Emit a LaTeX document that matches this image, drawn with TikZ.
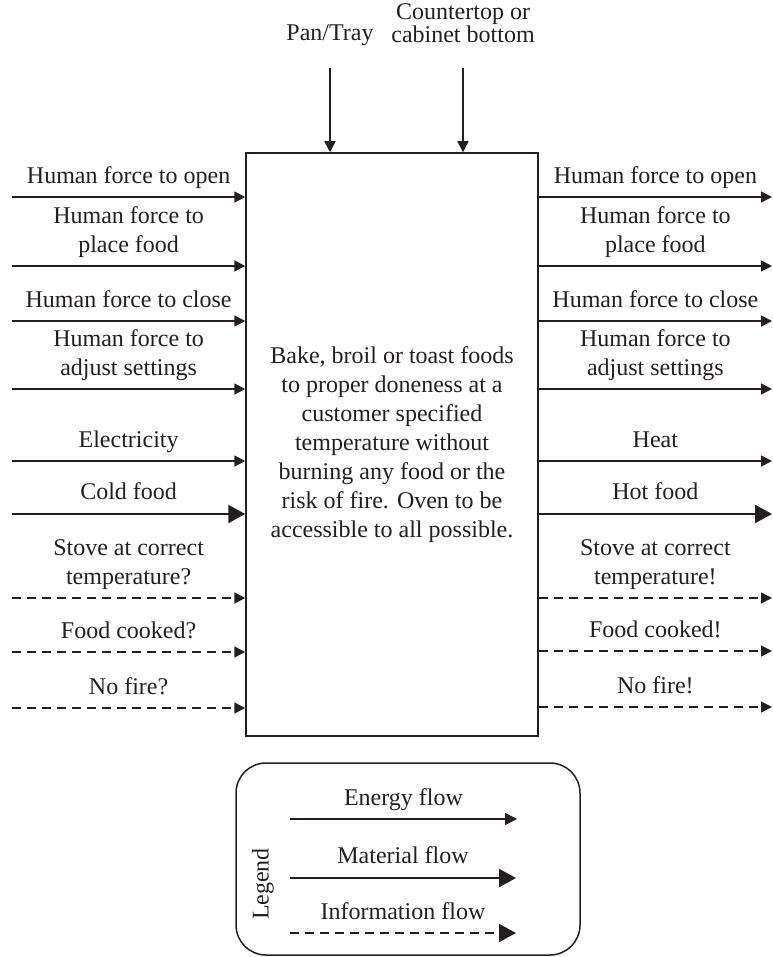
\documentclass[tikz,border=0pt]{standalone}
\usepackage{fontspec}
\setmainfont{Liberation Serif}
\usetikzlibrary{arrows.meta}
\definecolor{ink}{HTML}{231F20}

\begin{document}
\begin{tikzpicture}[x=0.5pt,y=-0.5pt,color=ink,font=\fontsize{12}{14.5}\selectfont]
\tikzstyle{every node}=[align=center,inner sep=0pt]
\tikzstyle{energy}=[line width=0.75pt,-{Triangle[length=5.5pt,width=5.5pt]}]
\tikzstyle{material}=[line width=1.2pt,-{Triangle[length=8.5pt,width=9pt]}]
\tikzstyle{info}=[line width=0.75pt,dash pattern=on 4.5pt off 3pt,-{Triangle[length=5.5pt,width=5.5pt]}]
\tikzstyle{flowlabel}=[midway,above=2.2pt]

\useasboundingbox (0,0) rectangle (772,957);

\node (fn) [draw,line width=0.75pt,minimum width=146pt,minimum height=291.5pt] at (392,444.5)
	{Bake, broil or toast foods\\to proper doneness at a\\customer specified\\temperature without\\burning any food or the\\risk of fire. Oven to be\\accessible to all possible.};

\coordinate (pan) at (330,68);
\coordinate (counter) at (463,68);
\draw[energy] (pan) -- (pan |- fn.north);
\draw[energy] (counter) -- (counter |- fn.north);
\node (pantext) [above=11pt] at (pan) {Pan/Tray};
\node (countertext) [above=12.5pt] at (counter) {Countertop or\\[-3pt]cabinet bottom};

\foreach \y/\txt [count=\i] in {197/{Human force to open},266/{Human force to\\place food},321/{Human force to close},389/{Human force to\\adjust settings},461/Electricity}{
	\coordinate (in\i) at (12,\y);
	\draw[energy] (in\i) -- (in\i -| fn.west) node[flowlabel] (intext\i) {\txt\strut};
}
\coordinate (in6) at (12,514);
\draw[material] (in6) -- (in6 -| fn.west) node[flowlabel] (intext6) {Cold food\strut};
\foreach \y/\txt [count=\i from 7] in {598/{Stove at correct\\temperature?},652/{Food cooked?},708/{No fire?}}{
	\coordinate (in\i) at (12,\y);
	\draw[info] (in\i) -- (in\i -| fn.west) node[flowlabel] (intext\i) {\txt\strut};
}

\foreach \y/\txt [count=\i] in {197/{Human force to open},266/{Human force to\\place food},321/{Human force to close},389/{Human force to\\adjust settings},461/Heat}{
	\coordinate (out\i) at (772,\y);
	\draw[energy] (out\i -| fn.east) -- (out\i) node[flowlabel] (outtext\i) {\txt\strut};
}
\coordinate (out6) at (772,514);
\draw[material] (out6 -| fn.east) -- (out6) node[flowlabel] (outtext6) {Hot food\strut};
\foreach \y/\txt [count=\i from 7] in {598/{Stove at correct\\temperature!},651/{Food cooked!},707/{No fire!}}{
	\coordinate (out\i) at (772,\y);
	\draw[info] (out\i -| fn.east) -- (out\i) node[flowlabel] (outtext\i) {\txt\strut};
}

\node (legend) [draw,line width=0.75pt,rounded corners=15pt,minimum width=172pt,minimum height=96pt] at (408,859) {};
\node (legendtext) [rotate=90] at (263,884) {Legend};
\coordinate (energy0) at (290,819);
\coordinate (energy1) at (517,819);
\coordinate (material0) at (290,878);
\coordinate (material1) at (516,878);
\coordinate (info0) at (290,933);
\coordinate (info1) at (516,933);
\draw[energy,-{Triangle[length=6pt,width=6pt]}] (energy0) -- (energy1) node[flowlabel] (energytext) {Energy flow\strut};
\draw[material] (material0) -- (material1) node[flowlabel] (materialtext) {Material flow\strut};
\draw[info,-{Triangle[length=8.5pt,width=9pt]}] (info0) -- (info1) node[flowlabel] (infotext) {Information flow\strut};

\end{tikzpicture}
\end{document}
